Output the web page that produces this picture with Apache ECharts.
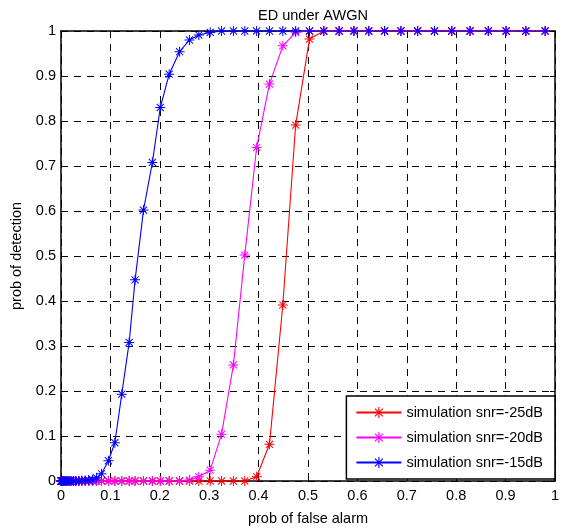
<!DOCTYPE html>
<html>
<head>
<meta charset="utf-8">
<script src="https://cdn.jsdelivr.net/npm/echarts@6/dist/echarts.min.js"></script>
<style>
html,body{margin:0;padding:0;background:#fff;}
#chart{width:565px;height:531px;}
</style>
</head>
<body>
<div id="chart"></div>
<script>
// Data
var pfa = [0, 0.001, 0.002, 0.004, 0.006, 0.009, 0.012, 0.016, 0.020, 0.025, 0.030, 0.036, 0.042, 0.049, 0.056, 0.064,
  0.072, 0.082, 0.096, 0.109, 0.123, 0.138, 0.150, 0.167, 0.185, 0.201, 0.219, 0.240, 0.260, 0.279, 0.302,
  0.325, 0.349, 0.372, 0.396, 0.422, 0.449, 0.475, 0.503, 0.532, 0.563, 0.593, 0.623, 0.655, 0.688, 0.722,
  0.756, 0.791, 0.828, 0.865, 0.901, 0.941, 0.980];

var pdSnrM25 = [0, 0, 0, 0, 0, 0, 0, 0, 0, 0, 0, 0, 0, 0, 0, 0,
  0, 0, 0, 0, 0, 0, 0, 0, 0, 0, 0, 0, 0, 0, 0,
  0, 0, 0, 0.0096, 0.0815, 0.391, 0.791, 0.982, 1, 1, 1, 1, 1, 1, 1,
  1, 1, 1, 1, 1, 1, 1];

var pdSnrM20 = [0, 0, 0, 0, 0, 0, 0, 0, 0, 0, 0, 0, 0, 0, 0, 0,
  0, 0, 0, 0, 0, 0, 0, 0, 0, 0, 0, 0, 0.002, 0.0096, 0.024,
  0.104, 0.258, 0.502, 0.741, 0.882, 0.967, 0.997, 1, 1, 1, 1, 1, 1, 1, 1,
  1, 1, 1, 1, 1, 1, 1];

var pdSnrM15 = [0, 0, 0, 0, 0, 0, 0, 0, 0, 0, 0, 0, 0.001, 0.001, 0.002, 0.003,
  0.007, 0.016, 0.045, 0.085, 0.193, 0.308, 0.447, 0.602, 0.708, 0.830, 0.904, 0.954, 0.980, 0.991, 0.997,
  1, 1, 1, 1, 1, 1, 1, 1, 1, 1, 1, 1, 1, 1, 1,
  1, 1, 1, 1, 1, 1, 1];

var seriesNames = ['simulation snr=-25dB', 'simulation snr=-20dB', 'simulation snr=-15dB'];
var seriesColors = ['#ff0000', '#ff00ff', '#0000ff'];
var titleText = 'ED under AWGN';
var xLabel = 'prob of false alarm';
var yLabel = 'prob of detection';

var starPath = 'path://M0 9 L20 9 L20 11 L0 11 Z M9 0 L11 0 L11 20 L9 20 Z ' +
  'M2.2 3.6 L3.6 2.2 L17.8 16.4 L16.4 17.8 Z M16.4 2.2 L17.8 3.6 L3.6 17.8 L2.2 16.4 Z';

function pairs(xs, ys) {
  var out = [];
  for (var i = 0; i < xs.length; i++) out.push([xs[i], ys[i]]);
  return out;
}

var FONT = 'Liberation Sans, Arial, Helvetica, sans-serif';
var FS = 14.5;

var chart = echarts.init(document.getElementById('chart'), null, {renderer: 'canvas'});

var gridLine = {show: true, lineStyle: {color: '#000', width: 1, type: [7, 6]}};
var axisLine = {show: true, onZero: false, lineStyle: {color: '#000', width: 1.5}};
var tick = {show: true, inside: true, length: 5, lineStyle: {color: '#000'}};

var allSeries = [pdSnrM25, pdSnrM20, pdSnrM15].map(function (ys, k) {
  return {
    name: seriesNames[k],
    type: 'line',
    xAxisIndex: 0,
    yAxisIndex: 0,
    data: pairs(pfa, ys),
    symbol: starPath,
    symbolSize: 10,
    showAllSymbol: true,
    lineStyle: {color: seriesColors[k], width: 1.1},
    itemStyle: {color: seriesColors[k]},
    emphasis: {disabled: true}
  };
});

chart.setOption({
  animation: false,
  backgroundColor: '#fff',
  title: {
    text: titleText,
    left: 308,
    textAlign: 'center',
    top: 3,
    textStyle: {fontFamily: FONT, fontSize: FS, fontWeight: 'normal', color: '#000'}
  },
  grid: {left: 61, right: 10, top: 31, bottom: 50, containLabel: false},
  legend: {
    right: 10,
    top: 396,
    orient: 'vertical',
    selectedMode: false,
    backgroundColor: '#fff',
    borderColor: '#000',
    borderWidth: 1.5,
    borderRadius: 0,
    padding: [9, 12, 9, 9],
    itemWidth: 45,
    itemHeight: 14,
    itemGap: 10,
    textStyle: {fontFamily: FONT, fontSize: FS, color: '#000'},
    data: seriesNames
  },
  xAxis: [{
    type: 'value', min: 0, max: 1, interval: 0.1,
    name: xLabel, nameLocation: 'middle', nameGap: 30,
    nameTextStyle: {fontFamily: FONT, fontSize: FS, color: '#000'},
    axisLine: axisLine, axisTick: tick,
    axisLabel: {fontFamily: FONT, fontSize: FS, color: '#000', margin: 7},
    splitLine: gridLine
  }, {
    type: 'value', min: 0, max: 1, interval: 0.1, position: 'top',
    axisLine: axisLine, axisTick: tick, axisLabel: {show: false}, splitLine: {show: false}
  }],
  yAxis: [{
    type: 'value', min: 0, max: 1, interval: 0.1,
    name: yLabel, nameLocation: 'middle', nameGap: 32,
    nameTextStyle: {fontFamily: FONT, fontSize: FS, color: '#000'},
    axisLine: axisLine, axisTick: tick,
    axisLabel: {fontFamily: FONT, fontSize: FS, color: '#000', margin: 5},
    splitLine: gridLine
  }, {
    type: 'value', min: 0, max: 1, interval: 0.1, position: 'right',
    axisLine: axisLine, axisTick: tick, axisLabel: {show: false}, splitLine: {show: false}
  }],
  series: allSeries
});
</script>
</body>
</html>
